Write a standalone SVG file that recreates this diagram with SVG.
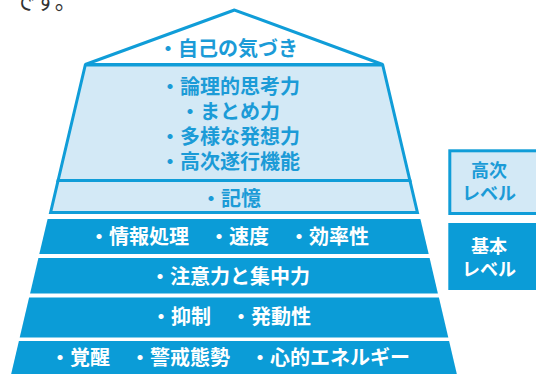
<svg xmlns="http://www.w3.org/2000/svg" width="536" height="374" viewBox="0 0 536 374">
<style>
.t{font-family:"Noto Sans CJK JP","Noto Sans",sans-serif;font-weight:bold;font-size:20px;text-anchor:middle}
.lt{fill:#1b9bd7}
.wt{fill:#ffffff}
.s{font-family:"Noto Sans CJK JP","Noto Sans",sans-serif;font-weight:bold;font-size:18px;text-anchor:middle}
.light{fill:#d3e9f6;stroke:#109dd8;stroke-width:3;stroke-linejoin:miter}
.dark{fill:#0b9cd7}
</style>
<rect width="536" height="374" fill="#ffffff"/>
<text x="13" y="9" font-family="'Noto Sans CJK JP',sans-serif" font-size="22" fill="#333333">です。</text>
<g id="roof">
<polygon points="234.5,10 85.3,64.5 382.7,64.5" fill="#ffffff" stroke="#109dd8" stroke-width="3"/>
<text class="t lt" x="228" y="55.5">・自己の気づき</text>
</g>
<g id="higher">
<polygon class="light" points="85.3,65 382.7,65 409.9,180.5 58.1,180.5"/>
<text class="t lt" x="230" y="93.5">・論理的思考力</text>
<text class="t lt" x="230" y="118.5">・まとめ力</text>
<text class="t lt" x="230" y="143.5">・多様な発想力</text>
<text class="t lt" x="230" y="168.5">・高次遂行機能</text>
</g>
<g id="memory">
<polygon class="light" points="58.1,180.5 409.9,180.5 417.4,212.5 50.6,212.5"/>
<text class="t lt" x="231" y="205.5">・記憶</text>
</g>
<g id="band1">
<polygon class="dark" points="47.6,219 420.4,219 428.7,254 39.3,254"/>
<text class="t wt" x="229" y="243.5">・情報処理　・速度　・効率性</text>
</g>
<g id="band2">
<polygon class="dark" points="38.4,258 429.6,258 437.9,293.5 30.1,293.5"/>
<text class="t wt" x="230" y="283.5">・注意力と集中力</text>
</g>
<g id="band3">
<polygon class="dark" points="29.1,297.5 438.9,297.5 448.3,337.5 19.7,337.5"/>
<text class="t wt" x="231" y="323.5">・抑制　・発動性</text>
</g>
<g id="band4">
<polygon class="dark" points="18.9,341 449.1,341 457.3,376 10.7,376"/>
<text class="t wt" x="230" y="364.5">・覚醒　・警戒態勢　・心的エネルギー</text>
</g>
<g id="high-level">
<rect class="light" x="449.8" y="150.8" width="100" height="62.7"/>
<text class="s lt" x="489" y="177">高次</text>
<text class="s lt" x="489" y="199.5">レベル</text>
</g>
<g id="basic-level">
<rect class="dark" x="448.3" y="223" width="100" height="67"/>
<text class="s wt" x="489" y="253">基本</text>
<text class="s wt" x="489" y="275.5">レベル</text>
</g>
<g id="connectors"></g>
</svg>
